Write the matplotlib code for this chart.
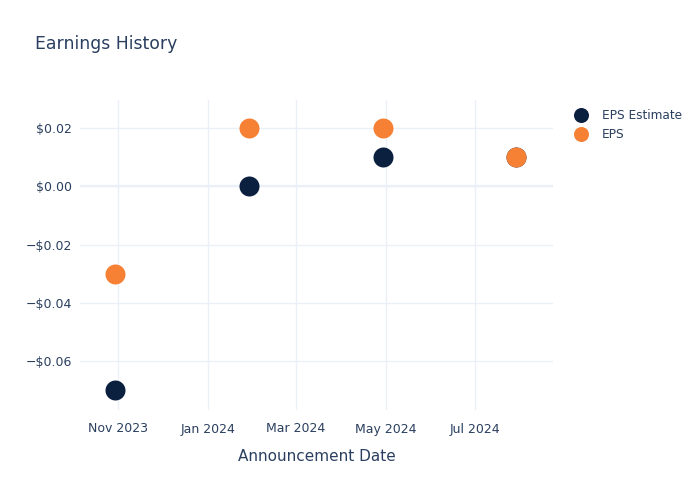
import matplotlib
matplotlib.use("Agg")
import matplotlib.pyplot as plt
from matplotlib.ticker import FuncFormatter
import numpy as np

dates = np.array(["2023-10-30", "2024-01-29", "2024-04-29", "2024-07-29"], dtype="datetime64[D]")
eps_estimate = [-0.07, 0.00, 0.01, 0.01]
eps_actual = [-0.03, 0.02, 0.02, 0.01]
tick_dates = np.array(["2023-11-01", "2024-01-01", "2024-03-01", "2024-05-01", "2024-07-01"], dtype="datetime64[D]")
tick_labels = ["Nov 2023", "Jan 2024", "Mar 2024", "May 2024", "Jul 2024"]
y_ticks = [-0.06, -0.04, -0.02, 0.00, 0.02]

TEXT = "#2a3f5f"
GRID = "#ebf0f8"
NAVY = "#0b1f3f"
ORANGE = "#f68135"

plt.rcParams["font.family"] = ["DejaVu Sans"]

fig = plt.figure(figsize=(7, 5), dpi=100)
ax = fig.add_axes([80 / 700, 90 / 500, 473 / 700, 310 / 500])

ms = (20 * 72 / 100) ** 2
ax.scatter(dates, eps_estimate, s=ms, color=NAVY, label="EPS Estimate", zorder=3, linewidths=0)
ax.scatter(dates, eps_actual, s=ms, color=ORANGE, label="EPS", zorder=4, linewidths=0)

ax.set_xlim(np.datetime64("2023-10-06"), np.datetime64("2024-08-23"))
ax.set_ylim(-0.0769, 0.0297)
ax.set_xticks(tick_dates)
ax.set_xticklabels(tick_labels)
ax.set_yticks(y_ticks)
ax.yaxis.set_major_formatter(FuncFormatter(
    lambda v, _: ("\u2212$" if v < -1e-9 else "$") + f"{abs(v):.2f}"))

ax.grid(True, color=GRID, linewidth=1)
ax.axhline(0, color=GRID, linewidth=1.6, zorder=1)
ax.set_axisbelow(True)
for s in ax.spines.values():
    s.set_visible(False)
ax.tick_params(length=0, colors=TEXT, labelsize=9)
ax.tick_params(axis="y", pad=6)
ax.tick_params(axis="x", pad=9)
ax.set_xlabel("Announcement Date", color=TEXT, fontsize=11, labelpad=10)

fig.text(35 / 700, 1 - 44 / 500, "Earnings History", color=TEXT, fontsize=12.4, va="center")

leg = ax.legend(loc="upper left", bbox_to_anchor=(1.023, 0.988), frameon=False,
                fontsize=8.7, labelcolor=TEXT, handletextpad=0.75, borderaxespad=0,
                markerscale=0.75)
fig.savefig("out.png", dpi=100)
